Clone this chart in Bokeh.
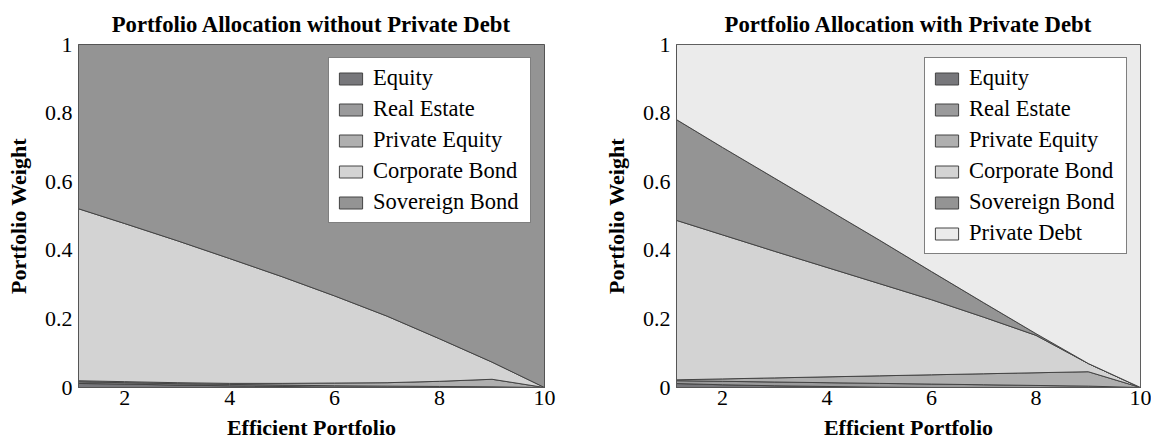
from bokeh.plotting import figure
from bokeh.layouts import row
from bokeh.models import Range1d, FixedTicker, CustomJSTickFormatter
from bokeh.embed import file_html
from bokeh.resources import INLINE

# ---------------- data ----------------
portfolios = [1, 2, 3, 4, 5, 6, 7, 8, 9, 10]
x_ticks = [2, 4, 6, 8, 10]
y_ticks = [0, 0.2, 0.4, 0.6, 0.8, 1.0]

# without private debt
eq_L = [0.012, 0.010, 0.007, 0.005, 0.003, 0.001, 0.000, 0.000, 0.000, 0.000]
re_L = [0.005, 0.004, 0.004, 0.004, 0.004, 0.004, 0.004, 0.003, 0.002, 0.000]
pe_L = [0.003, 0.003, 0.003, 0.003, 0.005, 0.008, 0.010, 0.015, 0.022, 0.000]
cb_L = [0.507, 0.461, 0.414, 0.364, 0.311, 0.254, 0.194, 0.124, 0.050, 0.000]
sb_L = [0.473, 0.522, 0.572, 0.624, 0.677, 0.733, 0.792, 0.858, 0.926, 1.000]

# with private debt
eq_R = [0.012, 0.008, 0.005, 0.003, 0.001, 0.000, 0.000, 0.000, 0.000, 0.000]
re_R = [0.008, 0.010, 0.011, 0.011, 0.011, 0.010, 0.008, 0.006, 0.004, 0.000]
pe_R = [0.002, 0.007, 0.012, 0.017, 0.022, 0.027, 0.032, 0.037, 0.042, 0.000]
cb_R = [0.471, 0.420, 0.369, 0.319, 0.269, 0.219, 0.165, 0.109, 0.024, 0.000]
sb_R = [0.299, 0.255, 0.213, 0.170, 0.127, 0.082, 0.042, 0.005, 0.000, 0.000]
pd_R = [0.208, 0.300, 0.390, 0.480, 0.570, 0.662, 0.753, 0.843, 0.930, 1.000]

names_L = ["Equity", "Real Estate", "Private Equity", "Corporate Bond", "Sovereign Bond"]
names_R = names_L + ["Private Debt"]
colors = {"Equity": "#77777b", "Real Estate": "#9a9a9b", "Private Equity": "#afafaf",
          "Corporate Bond": "#d3d3d3", "Sovereign Bond": "#949494", "Private Debt": "#ebebeb"}

FONT = "Liberation Serif"
HEIGHT = 443


def make_fig(title, names, series, min_left, min_right, width):
    p = figure(width=width, height=HEIGHT, output_backend="svg", toolbar_location=None,
               x_range=Range1d(1.12, 10), y_range=Range1d(0, 1),
               min_border_left=min_left, min_border_right=min_right,
               min_border_top=44, min_border_bottom=56, title=title)
    p.title.align = "center"
    p.title.vertical_align = "top"
    p.title.text_font = FONT
    p.title.text_font_size = "22.7px"
    p.title.text_font_style = "bold"
    p.title.text_color = "black"
    p.title.standoff = 12
    p.grid.visible = False
    p.background_fill_color = "white"
    p.outline_line_color = "#555555"
    p.outline_line_width = 1

    lower = [0.0] * len(portfolios)
    for name, vals in zip(names, series):
        upper = [a + b for a, b in zip(lower, vals)]
        xs = portfolios + portfolios[::-1]
        ys = upper + lower[::-1]
        p.patch(xs, ys, fill_color=colors[name], line_color="#444444", line_width=1,
                legend_label=name)
        lower = upper

    for ax in (p.xaxis[0], p.yaxis[0]):
        ax.major_label_text_font = FONT
        ax.major_label_text_font_size = "22px"
        ax.major_label_text_color = "black"
        ax.axis_label_text_font = FONT
        ax.axis_label_text_font_size = "22px"
        ax.axis_label_text_font_style = "bold"
        ax.axis_label_text_color = "black"
        ax.major_tick_line_color = None
        ax.minor_tick_line_color = None
        ax.major_tick_out = 0
        ax.major_tick_in = 0
        ax.minor_tick_out = 0
        ax.minor_tick_in = 0
        ax.axis_line_color = "#555555"
    p.xaxis.ticker = FixedTicker(ticks=x_ticks)
    p.yaxis.ticker = FixedTicker(ticks=y_ticks)
    p.yaxis.formatter = CustomJSTickFormatter(code="return String(Number(tick.toFixed(2)));")
    p.xaxis.axis_label = "Efficient Portfolio"
    p.yaxis.axis_label = "Portfolio Weight"
    p.xaxis.major_label_standoff = 3
    p.yaxis.major_label_standoff = 6
    p.xaxis.axis_label_standoff = 7
    p.yaxis.axis_label_standoff = 11

    lg = p.legend[0]
    lg.location = "top_right"
    lg.margin = 13
    lg.border_line_color = "black"
    lg.border_line_width = 1
    lg.background_fill_color = "white"
    lg.background_fill_alpha = 1
    lg.label_text_font = FONT
    lg.label_text_font_size = "22.5px"
    lg.label_text_color = "black"
    lg.glyph_width = 29
    lg.glyph_height = 15
    lg.label_height = 20
    lg.label_width = 150
    lg.label_standoff = 8
    lg.spacing = 5
    lg.padding = 7
    return p


p1 = make_fig("Portfolio Allocation without Private Debt", names_L,
              [eq_L, re_L, pe_L, cb_L, sb_L], 78, 22, 566)
p2 = make_fig("Portfolio Allocation with Private Debt", names_R,
              [eq_R, re_R, pe_R, cb_R, sb_R, pd_R], 110, 11, 585)

layout = row(p1, p2)
open("out.html", "w").write(file_html(layout, INLINE))
